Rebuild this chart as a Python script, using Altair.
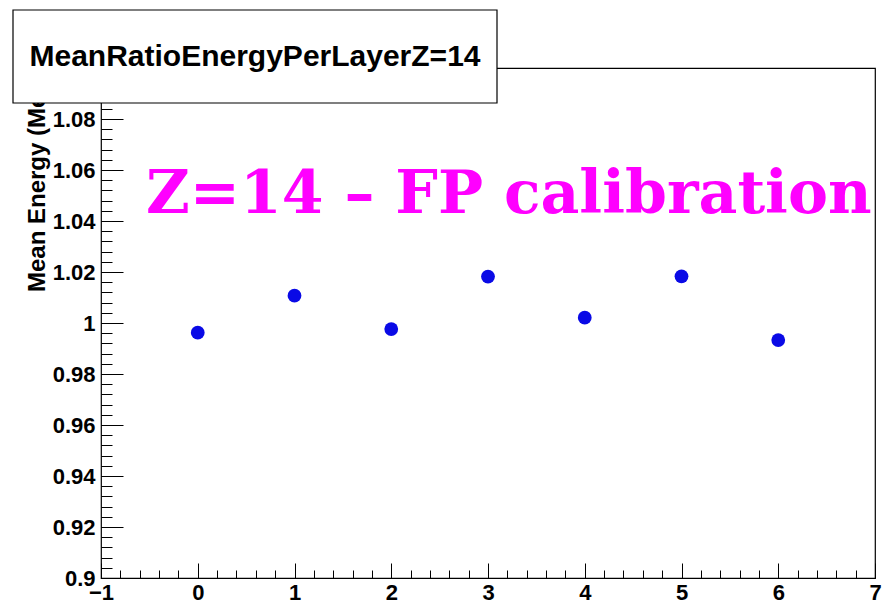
import altair as alt
import pandas as pd

# ---- data ----
layers = [0, 1, 2, 3, 4, 5, 6]
mean_ratio = [0.9962, 1.0107, 0.9976, 1.0182, 1.0021, 1.0183, 0.9933]

x_major = [-1, 0, 1, 2, 3, 4, 5, 6, 7]
x_minor = [round(-1 + 0.2 * i, 2) for i in range(41)]
y_major = [0.9, 0.92, 0.94, 0.96, 0.98, 1.0, 1.02, 1.04, 1.06, 1.08, 1.1]
y_labels = [0.9, 0.92, 0.94, 0.96, 0.98, 1.0, 1.02, 1.04, 1.06, 1.08]
y_minor = [round(0.9 + 0.004 * i, 3) for i in range(51)]

hist_title = ["MeanRatioEnergyPerLayerZ=14"]
y_title = ["Mean Energy (MeV)"]
annotation = ["Z=14 \u2013 FP calibration"]

df = pd.DataFrame({"layer": layers, "ratio": mean_ratio})

W, H = 774, 510
FONT = "Liberation Sans"

xs = alt.Scale(domain=[-1, 7], nice=False, zero=False)
ys = alt.Scale(domain=[0.9, 1.1], nice=False, zero=False)


def pts(xaxis, yaxis, opacity=0.0):
    return alt.Chart(df).mark_point(
        filled=True, size=190, color="#0a0ae6", opacity=opacity
    ).encode(
        x=alt.X("layer:Q", scale=xs, axis=xaxis),
        y=alt.Y("ratio:Q", scale=ys, axis=yaxis),
    )


tick_common = dict(labels=False, domain=False, grid=False, title=None,
                   tickColor="black", tickWidth=1)

x_major_ticks = pts(
    alt.Axis(orient="top", offset=-H, values=x_major, tickSize=15, **tick_common),
    None,
)
x_minor_ticks = pts(
    alt.Axis(orient="top", offset=-H, values=x_minor, tickSize=8, **tick_common),
    None,
)
y_major_ticks = pts(
    None,
    alt.Axis(orient="right", offset=-W, values=y_major, tickSize=22, **tick_common),
)
y_minor_ticks = pts(
    None,
    alt.Axis(orient="right", offset=-W, values=y_minor, tickSize=11, **tick_common),
)

main = pts(
    alt.Axis(orient="bottom", values=x_major, tickSize=0, domain=False, grid=False,
             title=None, labelFont=FONT, labelFontSize=22, labelFontWeight="bold",
             labelColor="black", labelPadding=4, labelOverlap=False, labelFlush=False,
             labelExpr="format(datum.value, '~g')"),
    alt.Axis(orient="left", values=y_labels, tickSize=0, domain=False, grid=False,
             title=None, labelFont=FONT, labelFontSize=22, labelFontWeight="bold",
             labelColor="black", labelPadding=6, labelOverlap=False, labelFlush=False,
             labelExpr="format(datum.value, '~g')"),
    opacity=1.0,
)

one = pd.DataFrame({"t": y_title})
ytitle = alt.Chart(one).mark_text(
    font=FONT, fontSize=24, fontWeight="bold", angle=270, align="left",
    baseline="middle", color="black"
).encode(x=alt.value(-63), y=alt.value(224), text="t:N")

box = alt.Chart(pd.DataFrame({"t": hist_title})).mark_rect(
    fill="white", stroke="black", strokeWidth=1.2
).encode(x=alt.value(-88), x2=alt.value(396), y=alt.value(-58), y2=alt.value(35))

box_text = alt.Chart(pd.DataFrame({"t": hist_title})).mark_text(
    font=FONT, fontSize=30, fontWeight="bold", align="center",
    baseline="middle", color="black"
).encode(x=alt.value(154), y=alt.value(-11), text="t:N")

magenta = alt.Chart(pd.DataFrame({"t": annotation})).mark_text(
    font="DejaVu Serif", fontSize=60, fontWeight="bold", align="left",
    baseline="alphabetic", color="#ff00ff"
).encode(x=alt.value(45), y=alt.value(145), text="t:N")

chart = alt.layer(
    x_minor_ticks, x_major_ticks, y_minor_ticks, y_major_ticks, main,
    ytitle, box, box_text, magenta
).resolve_axis(
    x="independent", y="independent"
).properties(
    width=W, height=H,
    padding={"left": 101, "top": 68, "right": 18, "bottom": 35},
    autosize=alt.AutoSizeParams(type="none"),
    background="white",
).configure_view(stroke="black", strokeWidth=1.2)

chart.save("out.html", embed_options={"renderer": "svg", "actions": False})
